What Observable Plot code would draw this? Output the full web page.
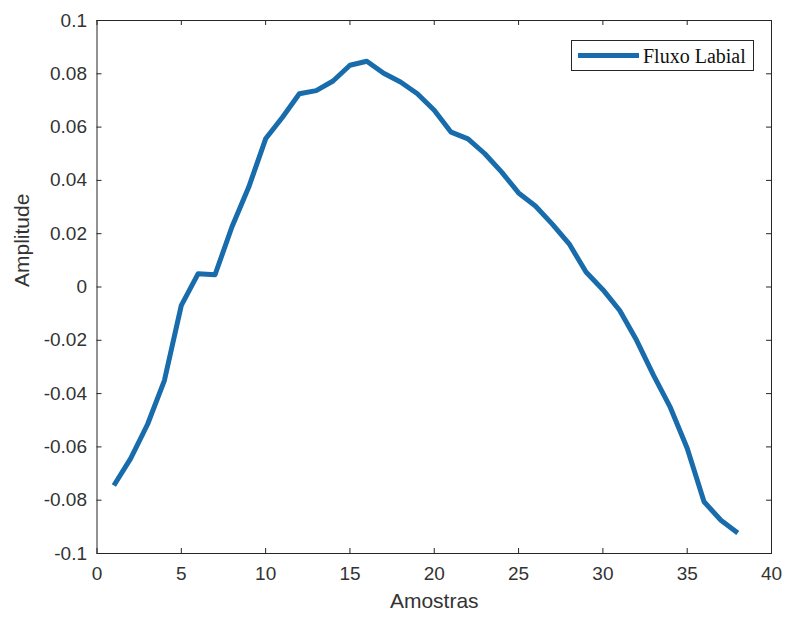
<!DOCTYPE html>
<html>
<head>
<meta charset="utf-8">
<script src="https://cdn.jsdelivr.net/npm/d3@7"></script>
<script src="https://cdn.jsdelivr.net/npm/@observablehq/plot@0.6"></script>
<style>
  html, body { margin: 0; padding: 0; background: #fff; }
  #chart { width: 787px; height: 619px; }
</style>
</head>
<body>
<div id="chart"></div>
<script>
const amostras = [1,2,3,4,5,6,7,8,9,10,11,12,13,14,15,16,17,18,19,20,21,22,23,24,25,26,27,28,29,30,31,32,33,34,35,36,37,38];
const amplitude = [-0.0745,-0.0643,-0.0515,-0.0350,-0.0069,0.0050,0.0046,0.0225,0.0375,0.0556,
  0.0637,0.0725,0.0737,0.0773,0.0832,0.0847,0.0802,0.0769,0.0725,0.0663,
  0.0581,0.0556,0.0500,0.0431,0.0353,0.0304,0.0236,0.0162,0.0056,-0.0010,
  -0.0088,-0.0200,-0.0331,-0.0452,-0.0605,-0.0806,-0.0875,-0.0923];
const xTicks = [0,5,10,15,20,25,30,35,40];
const yTicks = [-0.1,-0.08,-0.06,-0.04,-0.02,0,0.02,0.04,0.06,0.08,0.1];
const seriesName = "Fluxo Labial";
const xLabel = "Amostras";
const yLabel = "Amplitude";

const data = amostras.map((x, i) => ({x, y: amplitude[i]}));
const lineColor = "#186cab";
const axisColor = "#262626";
const labelColor = "#333333";
const fmtY = d => String(+d.toFixed(2));

const W = 787, H = 619, mL = 96.5, mR = 16, mT = 20, mB = 66;
const frameW = W - mL - mR, frameH = H - mT - mB, tick = 5;

function legend(index, scales, values, dims) {
  const ns = "http://www.w3.org/2000/svg";
  const g = document.createElementNS(ns, "g");
  const x0 = dims.width - dims.marginRight - 200, y0 = dims.marginTop + 20;
  const rect = document.createElementNS(ns, "rect");
  rect.setAttribute("x", x0 + 0.5); rect.setAttribute("y", y0 + 0.5);
  rect.setAttribute("width", 182); rect.setAttribute("height", 30);
  rect.setAttribute("fill", "#fff"); rect.setAttribute("stroke", axisColor); rect.setAttribute("stroke-width", 1);
  g.appendChild(rect);
  const ln = document.createElementNS(ns, "line");
  ln.setAttribute("x1", x0 + 7); ln.setAttribute("x2", x0 + 68);
  ln.setAttribute("y1", y0 + 15.5); ln.setAttribute("y2", y0 + 15.5);
  ln.setAttribute("stroke", lineColor); ln.setAttribute("stroke-width", 5);
  g.appendChild(ln);
  const t = document.createElementNS(ns, "text");
  t.setAttribute("x", x0 + 72); t.setAttribute("y", y0 + 22.5);
  t.setAttribute("text-anchor", "start");
  t.setAttribute("font-family", "'Liberation Serif', 'Times New Roman', serif");
  t.setAttribute("font-size", 20); t.setAttribute("fill", "#111");
  t.textContent = seriesName;
  g.appendChild(t);
  return g;
}

const chart = Plot.plot({
  width: W,
  height: H,
  marginLeft: mL,
  marginRight: mR,
  marginTop: mT,
  marginBottom: mB,
  style: {fontFamily: "'Liberation Sans', Arial, sans-serif", fontSize: "19px", color: labelColor, background: "#fff"},
  x: {domain: [0, 40], axis: null},
  y: {domain: [-0.1, 0.1], axis: null},
  marks: [
    Plot.line(data, {x: "x", y: "y", stroke: lineColor, strokeWidth: 5, strokeLinejoin: "round", strokeLinecap: "butt"}),
    // inward tick marks on all four sides
    Plot.tickX(xTicks, {x: d => d, insetTop: frameH - tick, stroke: axisColor, strokeWidth: 1}),
    Plot.tickX(xTicks, {x: d => d, insetBottom: frameH - tick, stroke: axisColor, strokeWidth: 1}),
    Plot.tickY(yTicks, {y: d => d, insetRight: frameW - tick, stroke: axisColor, strokeWidth: 1}),
    Plot.tickY(yTicks, {y: d => d, insetLeft: frameW - tick, stroke: axisColor, strokeWidth: 1}),
    Plot.axisX(xTicks, {anchor: "bottom", tickSize: 0, tickFormat: d => String(d), tickPadding: 13, fontSize: 19, fill: labelColor, label: null}),
    Plot.axisY(yTicks, {anchor: "left", tickSize: 0, tickFormat: fmtY, tickPadding: 10, fontSize: 19, fill: labelColor, label: null}),
    Plot.frame({stroke: axisColor, strokeWidth: 1}),
    Plot.text([xLabel], {frameAnchor: "bottom", dy: 54, text: d => d, fontSize: 21, fill: labelColor}),
    Plot.text([yLabel], {frameAnchor: "left", dx: -75, rotate: -90, text: d => d, fontSize: 21, fill: labelColor}),
    legend
  ]
});
document.getElementById("chart").appendChild(chart);
</script>
</body>
</html>
